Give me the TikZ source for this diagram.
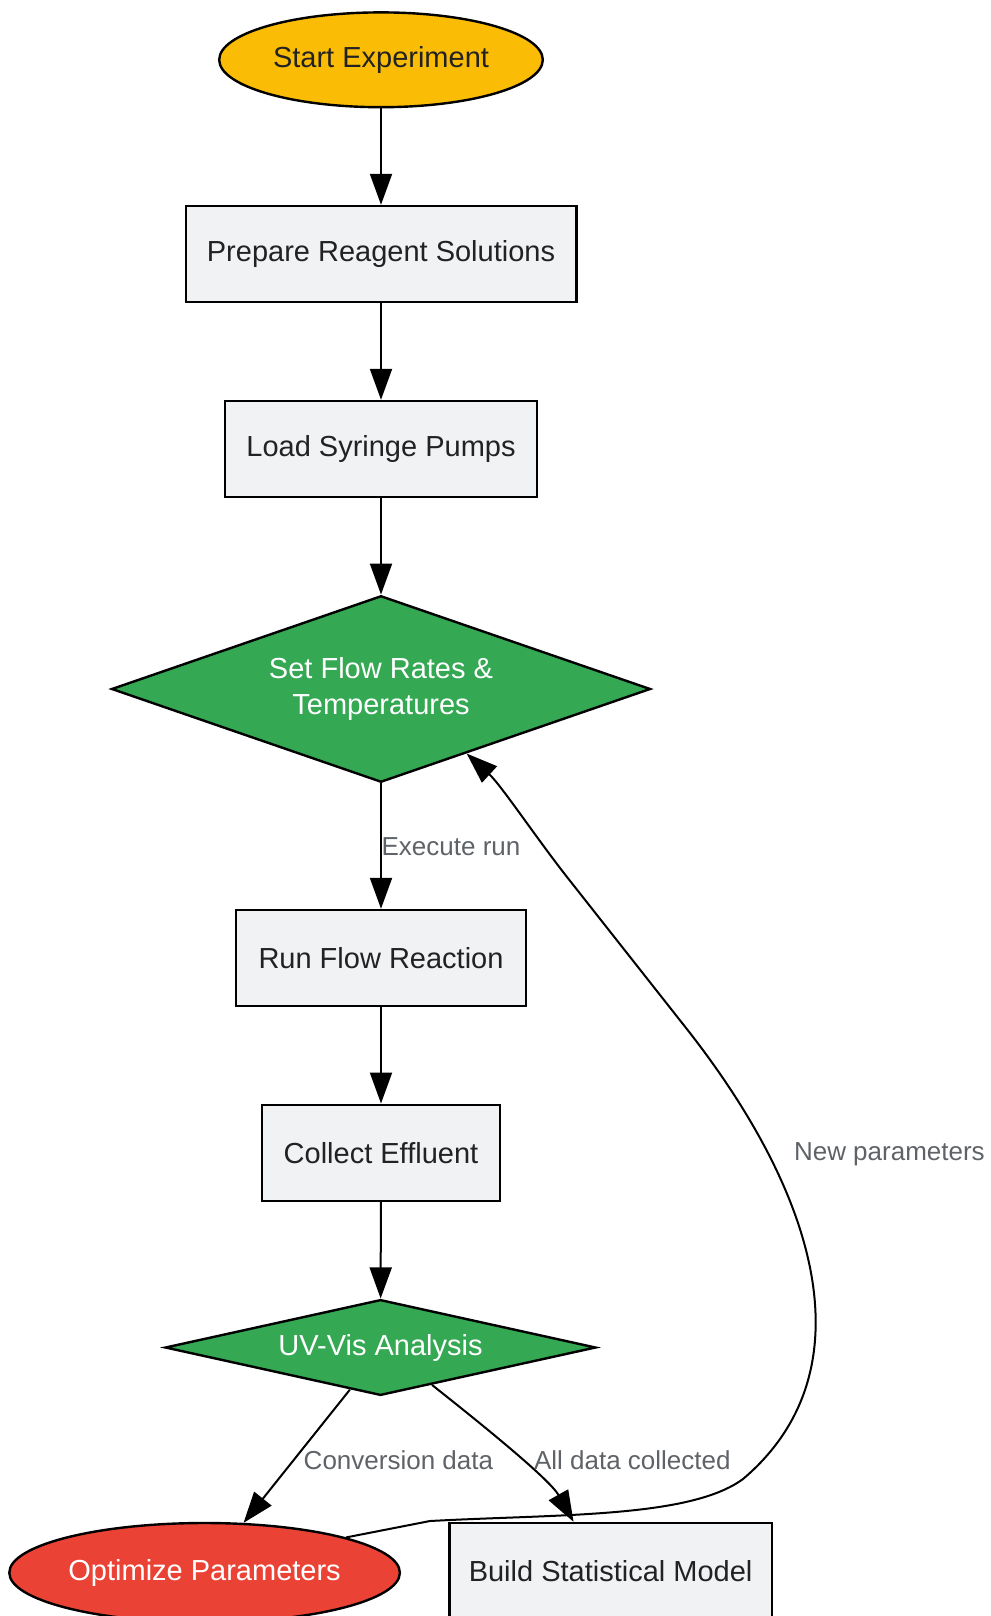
\documentclass[tikz,border=0pt]{standalone}
\usepackage{fontspec}
\setmainfont{Liberation Sans}
\usetikzlibrary{shapes.geometric,arrows.meta}

\definecolor{startyellow}{HTML}{FBBC05}
\definecolor{decgreen}{HTML}{34A853}
\definecolor{endred}{HTML}{EA4335}
\definecolor{boxgray}{HTML}{F1F2F4}
\definecolor{txtdark}{HTML}{222222}
\definecolor{lblgray}{HTML}{5F6368}

\tikzset{
  base/.style={draw=black, line width=2.4pt, inner sep=0pt, align=center, font=\fontsize{29}{36}\selectfont},
  procbox/.style={base, rectangle, fill=boxgray, text=txtdark, minimum height=96pt},
  decision/.style={base, diamond, fill=decgreen, text=white, aspect=2.9},
  terminal/.style={base, ellipse},
  arr/.style={line width=2pt, -{Triangle[length=31pt,width=22pt]}},
  lbl/.style={text=lblgray, inner sep=0pt, font=\fontsize{26}{31}\selectfont}
}

\begin{document}
\begin{tikzpicture}[x=1pt, y=-1pt]
\path[use as bounding box, fill=white] (0,0) rectangle (990,1616);
\clip (0,0) rectangle (990,1616);

% Main column
\node[terminal, fill=startyellow, text=txtdark, minimum width=323.6pt, minimum height=94.8pt] (start) at (381,59.8) {Start Experiment};
\node[procbox, minimum width=390.6pt] (prep) at (381,254) {Prepare Reagent Solutions};
\node[procbox, minimum width=312.3pt] (load) at (381,449) {Load Syringe Pumps};
\node[decision, minimum width=539pt, minimum height=186.5pt] (set) at (381,689) {Set Flow Rates \&\\Temperatures};
\node[procbox, minimum width=289.6pt] (run) at (381,958) {Run Flow Reaction};
\node[procbox, minimum width=238pt] (collect) at (381,1152.7) {Collect Effluent};
\node[decision, aspect=4.5, minimum width=430.8pt, minimum height=95.8pt] (uv) at (380.5,1347.5) {UV-Vis Analysis};

% Outcomes (cut by the lower edge)
\node[terminal, fill=endred, text=white, minimum width=390.6pt, minimum height=99.4pt] (opt) at (204.6,1572.7) {Optimize Parameters};
\node[procbox, minimum width=322.6pt] (model) at (610.6,1571) {Build Statistical Model};

% Straight connectors
\draw[arr] (start) -- (prep);
\draw[arr] (prep) -- (load);
\draw[arr] (load) -- (set);
\draw[arr] (set) -- (run);
\draw[arr] (run) -- (collect);
\draw[arr] (collect) -- (uv);
\draw[arr] (uv.234) -- (opt.52);
\draw[arr] (uv.-36) .. controls (470,1415) and (549,1478) .. (model.127);

% Feedback loop
\draw[arr] (opt.14) -- (430,1521) .. controls (560,1514) and (690,1518) .. (743,1479)
  .. controls (860,1380) and (831,1214.7) .. (690,1033) -- (567,877)
  .. controls (536,837.5) and (501,785) .. (set.-37);

% Edge labels
\node[lbl] (lexec) at (451,847) {Execute run};
\node[lbl] (lnew) at (889.4,1154.3) {New parameters};
\node[lbl] (lconv) at (398.4,1460.4) {Conversion data};
\node[lbl] (lall) at (632.3,1460.4) {All data collected};
\end{tikzpicture}
\end{document}
